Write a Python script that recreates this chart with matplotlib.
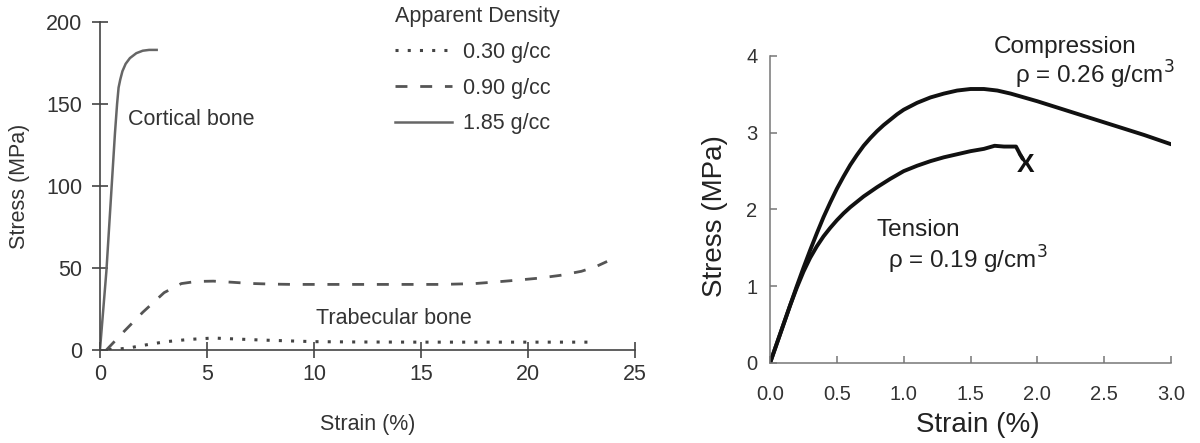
import matplotlib
matplotlib.use("Agg")
import matplotlib.pyplot as plt

plt.rcParams['font.family'] = ['Liberation Sans', 'DejaVu Sans']

# --- left panel: bone stress-strain by apparent density ---
dens_labels = ["0.30 g/cc", "0.90 g/cc", "1.85 g/cc"]

low_strain = [0.4, 0.9, 1.5, 2.0, 2.6, 3.1, 4.2, 5.3, 6.4, 7.5, 9, 10, 12, 15, 18, 21, 23]
low_stress = [0.3, 0.6, 1.6, 2.8, 4.1, 5.1, 6.5, 7.3, 6.7, 6.1, 5.5, 5.1, 4.9, 4.8, 4.8, 4.8, 4.8]

mid_strain = [0.3, 1.1, 2.0, 3.0, 3.8, 4.5, 5.3, 6.2, 7.0, 8.0, 9.0, 10, 12, 14, 16,
              17.5, 18.5, 19.5, 20.5, 21.5, 22.5, 23.2, 23.7]
mid_stress = [0, 11, 23, 35, 40.5, 41.8, 42, 41.3, 40.6, 40.2, 40, 40, 40, 40, 40,
              40.5, 41.5, 42.6, 43.8, 45.5, 48, 51, 54]

high_strain = [0.0, 0.3, 0.5, 0.7, 0.8, 0.87, 0.95, 1.05, 1.2, 1.4, 1.7, 2.0, 2.3, 2.65]
high_stress = [0, 48, 90, 132, 150, 160, 165, 170, 174.5, 178, 181, 182.5, 183, 183]

left_xticks = [0, 5, 10, 15, 20, 25]
left_yticks = [0, 50, 100, 150, 200]

# --- right panel: compression vs tension ---
comp_strain = [0, 0.05, 0.1, 0.15, 0.2, 0.25, 0.3, 0.35, 0.4, 0.45, 0.5, 0.55, 0.6, 0.65,
               0.7, 0.75, 0.8, 0.85, 0.9, 0.95, 1.0, 1.1, 1.2, 1.3, 1.4, 1.5, 1.6, 1.7,
               1.8, 1.9, 2.0, 2.2, 2.4, 2.6, 2.8, 3.0]
comp_stress = [0, 0.25, 0.5, 0.75, 1.0, 1.24, 1.47, 1.69, 1.9, 2.09, 2.27, 2.43, 2.58, 2.71,
               2.83, 2.93, 3.02, 3.1, 3.17, 3.24, 3.3, 3.39, 3.46, 3.51, 3.55, 3.57, 3.57, 3.55,
               3.51, 3.46, 3.41, 3.30, 3.19, 3.08, 2.97, 2.85]

tens_strain = [0, 0.05, 0.1, 0.15, 0.2, 0.25, 0.3, 0.35, 0.4, 0.45, 0.5, 0.55, 0.6, 0.7,
               0.8, 0.9, 1.0, 1.1, 1.2, 1.3, 1.4, 1.5, 1.6, 1.68, 1.75, 1.84, 1.87, 1.89]
tens_stress = [0, 0.25, 0.5, 0.75, 0.98, 1.19, 1.37, 1.52, 1.65, 1.76, 1.86, 1.95, 2.03, 2.17,
               2.29, 2.40, 2.5, 2.57, 2.63, 2.68, 2.72, 2.76, 2.79, 2.83, 2.82, 2.82, 2.72, 2.66]
fracture = (1.91, 2.58)

right_xticks = [0.0, 0.5, 1.0, 1.5, 2.0, 2.5, 3.0]
right_yticks = [0, 1, 2, 3, 4]

fig = plt.figure(figsize=(12, 4.43), dpi=100)

# left
gray = "#444444"
ax1 = fig.add_axes([0.0833, 0.2099, 0.4458, 0.7404])
ax1.plot(low_strain, low_stress, color="#444444", lw=2.2, linestyle=(0, (1, 3.0)), label=dens_labels[0])
ax1.plot(mid_strain, mid_stress, color="#555555", lw=2.0, linestyle=(0, (4.3, 4.6)), label=dens_labels[1])
ax1.plot(high_strain, high_stress, color="#666666", lw=1.8, label=dens_labels[2])
ax1.set_xlim(0, 25)
ax1.set_ylim(0, 200)
for s in ["top", "right"]:
    ax1.spines[s].set_visible(False)
for s in ["left", "bottom"]:
    ax1.spines[s].set_color(gray)
    ax1.spines[s].set_linewidth(1.2)
ax1.set_xticks(left_xticks)
ax1.set_yticks(left_yticks)
ax1.tick_params(direction="inout", length=12, width=1.2, color=gray,
                labelsize=15.5, labelcolor="#333333", pad=4)
ax1.tick_params(axis="y", pad=6.5)
ax1.set_ylabel("Stress (MPa)", fontsize=15.5, color="#333333")
ax1.yaxis.set_label_coords(-0.13, 0.5)
ax1.set_xlabel("Strain (%)", fontsize=15.5, color="#333333")
ax1.xaxis.set_label_coords(0.5, -0.195)
ax1.text(1.3, 140.8, "Cortical bone", fontsize=15.5, color="#333333", va="center")
ax1.text(10.1, 19.3, "Trabecular bone", fontsize=15.5, color="#333333", va="center")
leg = ax1.legend(title="Apparent Density", loc="upper left", bbox_to_anchor=(0.552, 1.048),
                 frameon=False, alignment="left", handlelength=2.65, handletextpad=0.5,
                 labelspacing=0.68, fontsize=15.5, title_fontsize=15.5,
                 borderpad=0, borderaxespad=0)
for t in leg.get_texts():
    t.set_color("#333333")
leg.get_title().set_color("#333333")

# right
ax2 = fig.add_axes([0.6417, 0.1806, 0.3342, 0.693])
ax2.plot(comp_strain, comp_stress, color="#111111", lw=2.8, solid_capstyle="round")
ax2.plot(tens_strain, tens_stress, color="#111111", lw=2.8, solid_capstyle="round")
ax2.text(fracture[0], fracture[1], "X", fontsize=19, fontweight="bold", color="#111111",
         ha="center", va="center")
ax2.set_xlim(0, 3.0)
ax2.set_ylim(0, 4)
for s in ["top", "right"]:
    ax2.spines[s].set_visible(False)
for s in ["left", "bottom"]:
    ax2.spines[s].set_color("#777777")
    ax2.spines[s].set_linewidth(1.1)
ax2.set_xticks(right_xticks)
ax2.set_xticklabels([f"{v:.1f}" for v in right_xticks])
ax2.set_yticks(right_yticks)
ax2.tick_params(direction="in", length=5, width=1.1, color="#777777",
                labelsize=14.5, labelcolor="#333333", pad=9)
ax2.tick_params(axis="x", pad=15.5)
ax2.set_ylabel("Stress (MPa)", fontsize=20, color="#222222")
ax2.yaxis.set_label_coords(-0.105, 0.48)
ax2.set_xlabel("Strain (%)", fontsize=20, color="#222222")
ax2.xaxis.set_label_coords(0.518, -0.16)
ax2.text(1.67, 4.12, "Compression", fontsize=17.5, color="#222222", va="center")
ax2.text(1.83, 3.75, r"ρ = 0.26 g/cm$^3$", fontsize=17.5, color="#222222", va="center")
ax2.text(0.80, 1.73, "Tension", fontsize=17.5, color="#222222", va="center")
ax2.text(0.88, 1.34, r"ρ = 0.19 g/cm$^3$", fontsize=17.5, color="#222222", va="center")

fig.savefig("out.png", dpi=100)
